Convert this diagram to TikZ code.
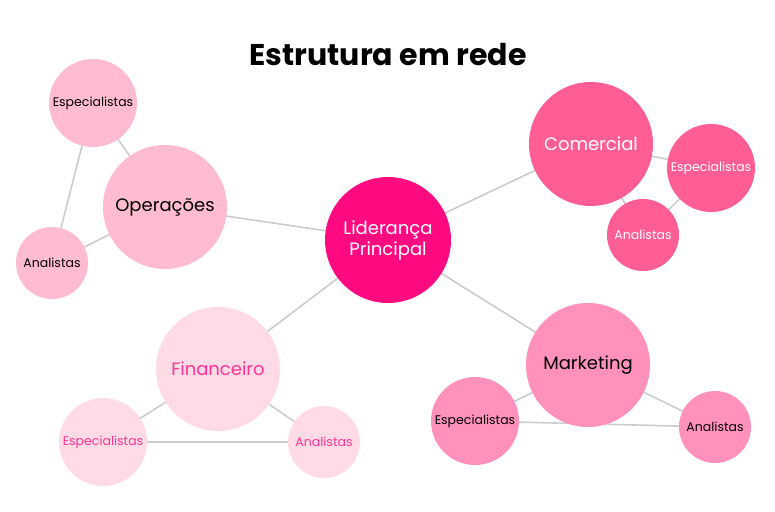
\documentclass[tikz,border=0pt]{standalone}
\usepackage{fontspec}
\setmainfont{Poppins}
\begin{document}
\begin{tikzpicture}[x=1pt,y=-1pt,
  c/.style={circle,inner sep=0pt,minimum size=#1*2pt,align=center},
  big/.style={font=\fontsize{18}{21}\selectfont},
  sm/.style={font=\fontsize{12.5}{14}\selectfont},
  e/.style={draw=black!20,line width=1.6pt}]
\definecolor{lid}{HTML}{FF0A80}
\definecolor{op}{HTML}{FFBCD0}
\definecolor{com}{HTML}{FF5E95}
\definecolor{fin}{HTML}{FFDCE5}
\definecolor{fint}{HTML}{FF3394}
\definecolor{mk}{HTML}{FF91BC}
\useasboundingbox (0,0) rectangle (775,511);
\node (t) at (388,55) {\fontsize{30}{34}\selectfont\bfseries Estrutura em rede};
\coordinate (L) at (388,240);
\coordinate (O) at (165,207); \coordinate (OE) at (93,103); \coordinate (OA) at (52,263);
\coordinate (C) at (591,144); \coordinate (CE) at (711,168); \coordinate (CA) at (643,235);
\coordinate (F) at (218,369); \coordinate (FE) at (103,442); \coordinate (FA) at (324,442);
\coordinate (M) at (588,365); \coordinate (ME) at (475,421); \coordinate (MA) at (715,427);
\draw[e] (L)--(O) (L)--(C) (L)--(F) (L)--(M)
 (O)--(OE) (O)--(OA) (OE)--(OA)
 (C)--(CE) (C)--(CA) (CE)--(CA)
 (F)--(FE) (F)--(FA) (FE)--(FA)
 (M)--(ME) (M)--(MA) (ME)--(MA);
\node[c=63,fill=lid,text=white,big] (nL) at (L) {Liderança\\Principal};
\node[c=62,fill=op,big] (nO) at (O) {Operações};
\node[c=44,fill=op,sm] (nOE) at (OE) {Especialistas};
\node[c=36,fill=op,sm] (nOA) at (OA) {Analistas};
\node[c=62,fill=com,text=white,big] (nC) at (C) {Comercial};
\node[c=44,fill=com,text=white,sm] (nCE) at (CE) {Especialistas};
\node[c=36,fill=com,text=white,sm] (nCA) at (CA) {Analistas};
\node[c=62,fill=fin,text=fint,big] (nF) at (F) {Financeiro};
\node[c=44,fill=fin,text=fint,sm] (nFE) at (FE) {Especialistas};
\node[c=36,fill=fin,text=fint,sm] (nFA) at (FA) {Analistas};
\node[c=62,fill=mk,big] (nM) at (M) {Marketing};
\node[c=44,fill=mk,sm] (nME) at (ME) {Especialistas};
\node[c=36,fill=mk,sm] (nMA) at (MA) {Analistas};
\end{tikzpicture}
\end{document}
